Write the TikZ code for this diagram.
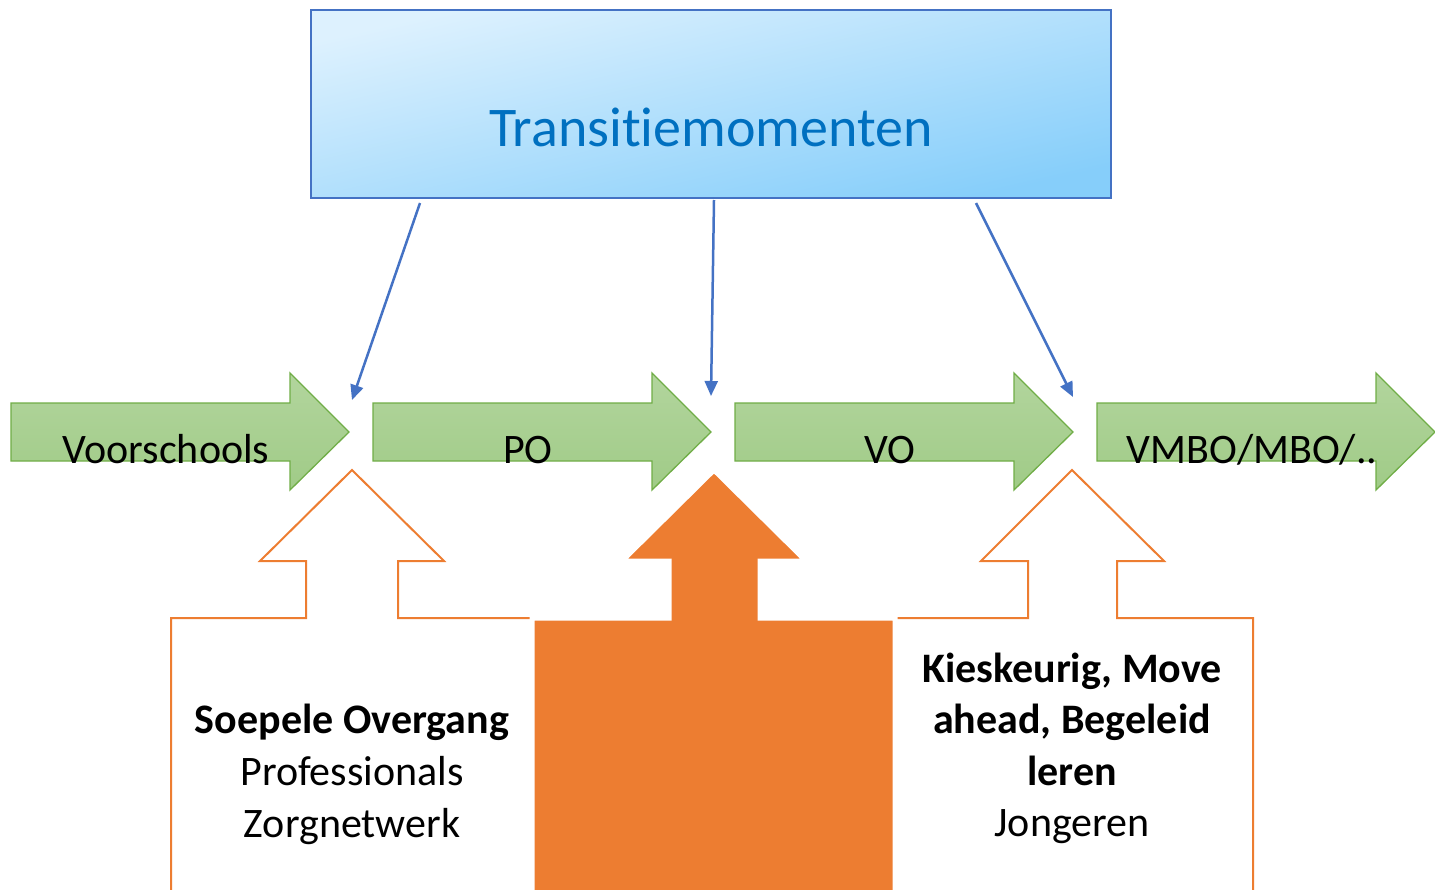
\documentclass[tikz,border=0pt]{standalone}
\usepackage{fontspec}
\setmainfont{Carlito}[Ligatures={NoCommon,NoRare,NoContextual}]
\usetikzlibrary{arrows.meta}
\definecolor{boxblue}{HTML}{4472C4}
\definecolor{txtblue}{HTML}{0070C0}
\definecolor{lightsky}{HTML}{DDF1FE}
\definecolor{darksky}{HTML}{86CEFA}
\definecolor{gline}{HTML}{70AD47}
\definecolor{gtop}{HTML}{B2D59D}
\definecolor{gbot}{HTML}{A0CB87}
\definecolor{orng}{HTML}{ED7D31}
\begin{document}
\begin{tikzpicture}[x=1pt,y=-1pt,
  greenarrow/.style={draw=gline, line width=1.3pt, top color=gtop, bottom color=gbot, line join=miter},
  arrowlabel/.style={anchor=base, inner sep=0pt, font=\fontsize{42}{50}\selectfont},
  calltext/.style={anchor=base, inner sep=0pt, font=\fontsize{42}{50}\selectfont},
  callbold/.style={calltext, font=\fontsize{42}{50}\selectfont\bfseries},
  callout/.style={draw=orng, line width=2pt, fill=white, line join=miter},
  bigup/.style={fill=orng, draw=white, line width=5pt, line join=miter},
  blueconn/.style={draw=boxblue, line width=2.5pt, -{Triangle[length=15pt,width=13pt]}}]
\useasboundingbox (0,0) rectangle (1435,889);
\clip (0,0) rectangle (1435,889);

% top box
\node[draw=boxblue, line width=1.3pt, minimum width=800pt, minimum height=188pt,
      top color=lightsky, bottom color=darksky, shading angle=13, inner sep=0pt] (tm) at (711,104) {};
\node[anchor=base, inner sep=0pt, text=txtblue, font=\fontsize{56}{64}\selectfont] (tmtext) at (711,146) {Transitiemomenten};

% green process arrows
\foreach \x/\name in {11/a1,373/a2,735/a3,1097/a4}{
  \path[greenarrow] (\x,403) -- ++(279,0) -- ++(0,-30) -- ++(59,59) -- ++(-59,58) -- ++(0,-29) -- (\x,461) -- cycle;
}
\node[arrowlabel] (voor) at (166,463) {Voorschools};
\node[arrowlabel] (po) at (528,463) {PO};
\node[arrowlabel] (vo) at (890,463) {VO};
\node[arrowlabel] (vmbo) at (1252,463) {VMBO/MBO/..};

% blue connectors
\coordinate (s1) at (420,203); \coordinate (e1) at (352,400);
\coordinate (s2) at (714,200); \coordinate (e2) at (711,396);
\coordinate (s3) at (976,203); \coordinate (e3) at (1073,397);
\draw[blueconn] (s1) -- (e1);
\draw[blueconn] (s2) -- (e2);
\draw[blueconn] (s3) -- (e3);

% left callout
\draw[callout] (171,905) -- (171,618) -- (306,618) -- (306,561) -- (260,561) -- (352,470)
   -- (444,561) -- (398,561) -- (398,618) -- (532,618) -- (532,905);
% right callout
\draw[callout] (895,905) -- (895,618) -- (1028,618) -- (1028,561) -- (981,561) -- (1072,470)
   -- (1164,561) -- (1117,561) -- (1117,618) -- (1253,618) -- (1253,905);
% middle filled up arrow
\draw[bigup] (532,905) -- (532,618) -- (669,618) -- (669,561) -- (622,561) -- (714,470)
   -- (806,561) -- (760,561) -- (760,618) -- (895,618) -- (895,905) -- cycle;

% left callout text
\node[callbold] (soep) at (352,733) {Soepele Overgang};
\node[calltext] (prof) at (352,785) {Professionals};
\node[calltext] (zorg) at (352,837) {Zorgnetwerk};
% right callout text
\node[callbold] (kies) at (1072,682) {Kieskeurig, Move};
\node[callbold] (ahead) at (1072,733) {ahead, Begeleid};
\node[callbold] (leren) at (1072,785) {leren};
\node[calltext] (jong) at (1072,836) {Jongeren};
\end{tikzpicture}
\end{document}
